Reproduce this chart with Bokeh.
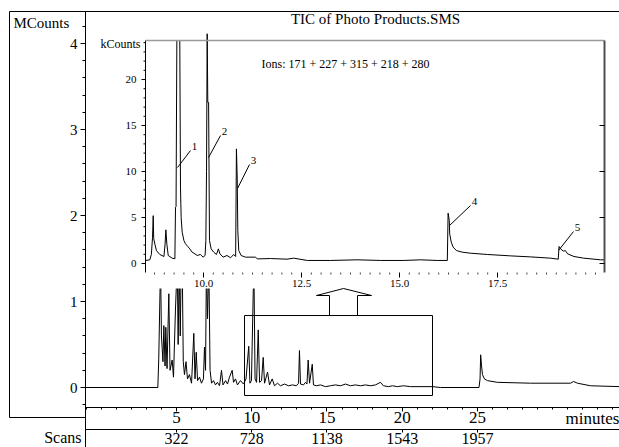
import numpy as np
from bokeh.plotting import figure
from bokeh.models import Range1d, LinearAxis, FixedTicker
from bokeh.core.properties import value
from bokeh.embed import file_html
from bokeh.resources import INLINE

# ---------------- data ----------------
main_minutes = [-1.05, 3.76, 3.82, 3.94, 4.00, 4.10, 4.16, 4.24, 4.29, 4.37, 4.49, 4.57, 4.71, 4.80,
                4.93, 5.05, 5.11, 5.18, 5.25, 5.31, 5.38, 5.45, 5.53, 5.63, 5.73, 5.86, 6.00, 6.15,
                6.23, 6.31, 6.40, 6.53, 6.66, 6.79, 6.86, 6.93, 6.99, 7.06, 7.15, 7.23, 7.33, 7.46,
                7.59, 7.72, 7.86, 7.99, 8.09, 8.26, 8.39, 8.52, 8.70, 8.79, 8.92, 9.05, 9.25, 9.45,
                9.62, 9.80, 9.88, 9.98, 10.14, 10.22, 10.32, 10.43, 10.52, 10.65, 10.76, 10.85, 11.05,
                11.18, 11.36, 11.51, 11.71, 11.91, 12.18, 12.44, 12.71, 12.97, 13.11, 13.17, 13.24,
                13.44, 13.57, 13.67, 13.75, 13.84, 14.02, 14.10, 14.30, 14.57, 14.90, 15.23, 15.56,
                15.90, 16.23, 16.56, 16.89, 17.23, 17.56, 17.89, 18.22, 18.55, 18.75, 19.09, 19.35,
                19.68, 20.08, 20.55, 22.01, 22.54, 25.10, 25.17, 25.21, 25.27, 25.33, 25.46, 25.66,
                26.32, 28.52, 31.18, 31.38, 31.64, 32.51, 34.44]
main_mcounts = [0.0, 0.0, 0.33, 1.45, 0.6, 0.3, 0.72, 0.25, 0.7, 0.22, 1.09, 0.2, 0.32, 0.12,
                0.9, 1.45, 0.5, 1.45, 0.6, 1.4, 1.45, 0.3, 0.15, 0.3, 0.1, 0.15, 0.05, 0.63,
                0.1, 0.41, 0.08, 0.12, 0.05, 0.1, 0.47, 0.2, 1.45, 0.8, 1.45, 0.2, 0.05, 0.08,
                0.03, 0.06, 0.02, 0.2, 0.03, 0.08, 0.04, 0.12, 0.2, 0.06, 0.1, 0.03, 0.08, 0.04,
                0.1, 0.48, 0.05, 0.08, 1.45, 0.1, 0.06, 0.67, 0.06, 0.08, 0.35, 0.05, 0.18,
                0.03, 0.1, 0.02, 0.05, 0.02, 0.04, 0.02, 0.03, 0.02, 0.05, 0.43, 0.04,
                0.03, 0.06, 0.04, 0.32, 0.05, 0.27, 0.03, 0.02, 0.03, 0.01, 0.02, 0.03,
                0.02, 0.04, 0.02, 0.03, 0.02, 0.03, 0.02, 0.03, 0.06, 0.02, 0.01, 0.02,
                0.01, 0.02, 0.01, 0.01, 0.0, 0.0, 0.1, 0.38, 0.25, 0.15, 0.1, 0.08,
                0.06, 0.05, 0.05, 0.07, 0.05, 0.02, 0.01]

inset_minutes = [8.52, 8.63, 8.67, 8.70, 8.717, 8.73, 8.76, 8.80, 8.885, 8.99, 9.02, 9.04, 9.065,
                 9.10, 9.20, 9.27, 9.286, 9.30, 9.32, 9.395, 9.413, 9.43, 9.456, 9.50, 9.54, 9.60,
                 9.65, 9.71, 9.78, 9.84, 9.92, 9.99, 10.04, 10.06, 10.077, 10.094, 10.11, 10.13,
                 10.153, 10.195, 10.26, 10.33, 10.38, 10.42, 10.50, 10.60, 10.69, 10.77, 10.82,
                 10.84, 10.86, 10.875, 10.90, 10.96, 11.07, 11.33, 11.37, 11.71, 12.13, 12.30,
                 12.65, 13.24, 13.92, 14.52, 15.11, 15.54, 15.96, 16.22, 16.24, 16.27, 16.28,
                 16.32, 16.37, 16.45, 16.60, 16.81, 17.24, 17.83, 18.34, 18.85, 19.05, 19.07,
                 19.11, 19.18, 19.23, 19.29, 19.45, 19.70, 20.13, 20.23]
inset_kcounts = [0.33, 0.40, 0.98, 2.86, 5.2, 2.7, 2.1, 1.4, 0.98, 0.76, 2.1, 3.66, 2.1,
                 0.87, 0.58, 0.51, 6.12, 6.2, 24.24, 24.24, 8.3, 5.0, 3.4, 2.5, 2.14, 1.85,
                 1.59, 1.23, 1.05, 0.87, 0.98, 0.69, 0.87, 2.5, 10.0, 24.97, 17.5, 17.5,
                 2.5, 1.59, 1.23, 0.98, 1.59, 1.05, 0.69, 0.87, 0.62, 0.98, 0.76,
                 12.46, 9.4, 3.6, 1.41, 0.87, 0.69, 0.69, 0.5, 0.54, 0.47, 0.58,
                 0.33, 0.33, 0.40, 0.33, 0.33, 0.40, 0.33, 0.33, 5.47, 4.67, 3.22,
                 2.32, 1.77, 1.41, 1.23, 1.12, 0.98, 0.83, 0.72, 0.58, 0.47, 1.85,
                 1.59, 1.34, 1.41, 1.05, 0.76, 0.58, 0.40, 0.40]

minute_ticks = [5, 10, 15, 20, 25]
scan_numbers = ["322", "728", "1138", "1543", "1957"]
mcount_ticks = [0, 1, 2, 3, 4]
inset_minute_ticks = [10.0, 12.5, 15.0, 17.5]
inset_minute_labels = ["10.0", "12.5", "15.0", "17.5"]
inset_kcount_ticks = [0, 5, 10, 15, 20]
peak_ids = ["1", "2", "3", "4", "5"]
peak_minutes = [9.337, 10.128, 10.867, 16.276, 19.056]
peak_kcounts = [10.43, 11.52, 8.15, 4.13, 1.41]
zoom_minutes = [9.52, 22.01]
zoom_mcounts = [-0.093, 0.837]
title_text = "TIC of Photo Products.SMS"
ions_text = "Ions: 171 + 227 + 315 + 218 + 280"

# ---------------- geometry (frame = whole canvas) ----------------
W, H = 619, 447
KX, KY = 15.05, 86.0          # main: px per minute, px per MCount
MX_START = -1.0465 - 85 / KX  # minute at canvas x=0
Y0_PX = 387                   # canvas y of 0 MCounts
KIX, KIY = 39.2, 9.2          # inset: px per minute, px per kCount
IX_START = 10.0 - 203 / KIX
IY0_PX = 263


def mx(px):
    return MX_START + px / KX


def my(py):
    return (Y0_PX - py) / KY


def ix(px):
    return IX_START + px / KIX


def iy(py):
    return (IY0_PX - py) / KIY


I_L, I_R, I_T, I_B = ix(145), ix(604), iy(40), iy(272)
SERIF = "Liberation Serif"

p = figure(width=W, height=H, output_backend="svg", toolbar_location=None,
           x_range=Range1d(mx(0), mx(W)), y_range=Range1d(my(H), my(0)),
           x_axis_location=None, y_axis_location=None,
           min_border=0, min_border_left=0, min_border_right=0, min_border_top=0, min_border_bottom=0)
p.extra_x_ranges = {"ix": Range1d(ix(0), ix(W))}
p.extra_y_ranges = {"iy": Range1d(iy(H), iy(0))}
p.grid.visible = False
p.outline_line_color = None
p.background_fill_color = "white"
p.border_fill_color = "white"


def style_axis(a, font_px):
    a.major_label_text_font = SERIF
    a.major_label_text_font_size = font_px
    a.major_label_text_color = "black"
    a.axis_line_color = "black"
    a.major_tick_line_color = "black"
    a.minor_tick_line_color = "black"
    a.major_tick_in = 0
    a.minor_tick_in = 0


# main y axis (fixed at x=85 px, running through the scans row)
ya = LinearAxis(fixed_location=mx(85), bounds=(my(447), my(11)),
                ticker=FixedTicker(ticks=mcount_ticks,
                                   minor_ticks=[round(v, 1) for v in np.arange(-0.2, 4.3, 0.2)]))
style_axis(ya, "15px")
ya.major_tick_out = 5
ya.minor_tick_out = 3
ya.major_label_standoff = 3
p.add_layout(ya, "left")

# minutes axis
xa = LinearAxis(fixed_location=my(407), bounds=(mx(85), mx(619)),
                ticker=FixedTicker(ticks=minute_ticks, minor_ticks=list(range(-1, 35))))
style_axis(xa, "17px")
xa.major_tick_out = 4
xa.minor_tick_out = 2
xa.major_label_standoff = 0
p.add_layout(xa, "below")

# scans axis
sa = LinearAxis(fixed_location=my(429), bounds=(mx(85), mx(619)),
                ticker=FixedTicker(ticks=minute_ticks, minor_ticks=[]),
                major_label_overrides={t: s for t, s in zip(minute_ticks, scan_numbers)})
style_axis(sa, "16px")
sa.major_tick_out = 3
sa.minor_tick_out = 0
sa.major_label_standoff = 0
p.add_layout(sa, "below")

# outer chrome: top rule and MCounts corner box
p.segment(x0=[mx(9), mx(9), mx(9)], y0=[my(11), my(11), my(417)],
          x1=[mx(619), mx(9), mx(85)], y1=[my(11), my(417), my(417)],
          line_color="black", line_width=1)
p.text(x=[mx(13)], y=[my(22)], text=["MCounts"], text_font=value(SERIF), text_font_size="15px",
       text_align="left", text_baseline="middle", text_color="black")
p.text(x=[mx(592)], y=[my(418)], text=["minutes"], text_font=value(SERIF), text_font_size="17px",
       text_align="center", text_baseline="middle", text_color="black")
p.text(x=[mx(81)], y=[my(437)], text=["Scans"], text_font=value(SERIF), text_font_size="16px",
       text_align="right", text_baseline="middle", text_color="black")

# main trace
p.line(main_minutes, main_mcounts, line_color="black", line_width=1)

# inset background
kw = dict(x_range_name="ix", y_range_name="iy")
p.quad(left=[ix(87)], right=[ix(606)], top=[iy(32)], bottom=[iy(288)],
       fill_color="white", line_color=None, **kw)

# inset trace
p.line(inset_minutes, inset_kcounts, line_color="black", line_width=1, **kw)

# inset frame and ticks
p.segment(x0=[I_L], y0=[I_B], x1=[I_L], y1=[I_T], line_color="black", line_width=1, **kw)
p.segment(x0=[I_L], y0=[I_T], x1=[I_R], y1=[I_T], line_color="#9a9a9a", line_width=1.5, **kw)
p.segment(x0=[I_R], y0=[I_B], x1=[I_R], y1=[I_T], line_color="#505050", line_width=2, **kw)
minor_k = [k for k in range(0, 25) if k not in inset_kcount_ticks]
p.segment(x0=[I_L - 2 / KIX] * len(minor_k), y0=minor_k, x1=[I_L] * len(minor_k), y1=minor_k,
          line_color="black", line_width=1, **kw)
p.segment(x0=[I_L - 4 / KIX] * 5, y0=inset_kcount_ticks, x1=[I_L] * 5, y1=inset_kcount_ticks,
          line_color="black", line_width=1, **kw)
p.segment(x0=[I_R - 5 / KIX] * 4, y0=inset_kcount_ticks[:4], x1=[I_R] * 4, y1=inset_kcount_ticks[:4],
          line_color="black", line_width=1, **kw)
minor_t = [round(t, 2) for t in np.arange(8.75, 20.2, 0.25) if round(t, 2) not in inset_minute_ticks]
p.segment(x0=minor_t, y0=[I_B] * len(minor_t), x1=minor_t, y1=[I_B - 2 / KIY] * len(minor_t),
          line_color="#444444", line_width=1, **kw)
p.segment(x0=inset_minute_ticks, y0=[I_B] * 4, x1=inset_minute_ticks, y1=[I_B - 5 / KIY] * 4,
          line_color="black", line_width=1, **kw)

txt = dict(text_font=value(SERIF), text_color="black", **kw)
p.text(x=[I_L - 9 / KIX] * 5, y=inset_kcount_ticks, text=[str(k) for k in inset_kcount_ticks],
       text_font_size="11px", text_align="right", text_baseline="middle", **txt)
p.text(x=inset_minute_ticks, y=[I_B - 11 / KIY] * 4, text=inset_minute_labels,
       text_font_size="11px", text_align="center", text_baseline="middle", **txt)
p.text(x=[I_L - 5 / KIX], y=[I_T - 3 / KIY], text=["kCounts"],
       text_font_size="12px", text_align="right", text_baseline="middle", **txt)
p.text(x=[ix(345)], y=[iy(63)], text=[ions_text],
       text_font_size="12px", text_align="center", text_baseline="middle", **txt)
p.text(x=[ix(375)], y=[iy(18)], text=[title_text],
       text_font_size="15px", text_align="center", text_baseline="middle", **txt)

# peak callouts
leader_px = [(13, -17), (12, -22), (12, -24), (21, -20), (15, -19)]
ex = [t + dx / KIX for t, (dx, dy) in zip(peak_minutes, leader_px)]
ey = [k - dy / KIY for k, (dx, dy) in zip(peak_kcounts, leader_px)]
p.segment(x0=peak_minutes, y0=peak_kcounts, x1=ex, y1=ey, line_color="black", line_width=1, **kw)
p.text(x=[e + 4 / KIX for e in ex], y=[e + 4 / KIY for e in ey], text=peak_ids,
       text_font_size="11px", text_align="center", text_baseline="middle", **txt)

# zoom box and arrow in main chart
p.quad(left=[zoom_minutes[0]], right=[zoom_minutes[1]], bottom=[zoom_mcounts[0]], top=[zoom_mcounts[1]],
       fill_color=None, line_color="black", line_width=1)
arrow_px = [(329, 315), (329, 295), (316, 295), (343, 288), (371, 295), (357, 295), (357, 315)]
p.line([mx(a) for a, b in arrow_px], [my(b) for a, b in arrow_px], line_color="black", line_width=1)

open("out.html", "w").write(file_html(p, INLINE))
